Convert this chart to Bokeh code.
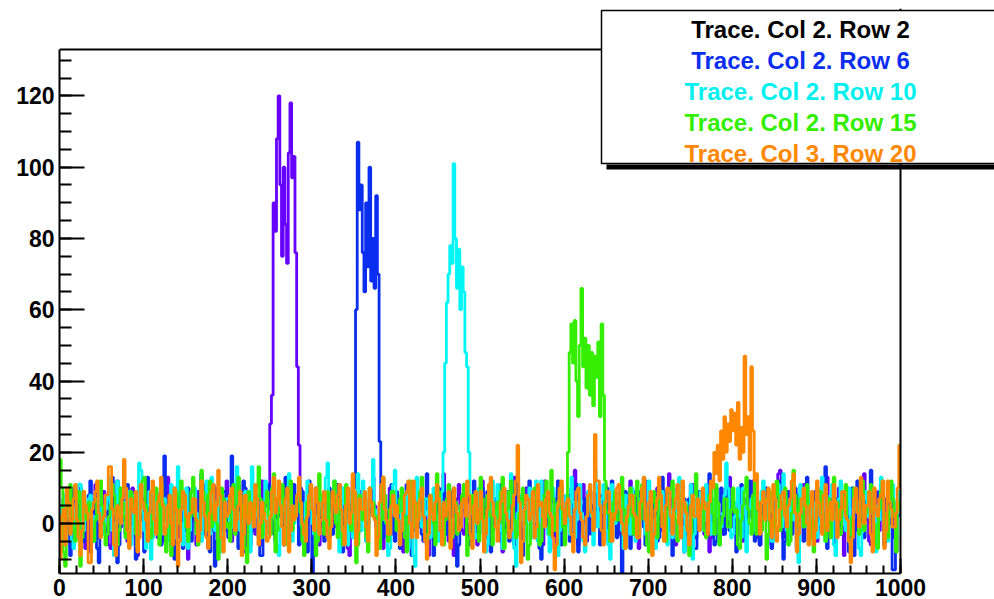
import numpy as np
from bokeh.plotting import figure
from bokeh.models import Range1d, SingleIntervalTicker, BoxAnnotation, Label, Span
from bokeh.embed import file_html
from bokeh.resources import INLINE

# ---- data: bin contents, 500 bins of width 2 over 0..1000 ----
x_min, x_max = 0, 1000
y_min, y_max = -14, 133

row2 = [3, -2, -6, 4, 8, 0, 1, 6, -4, -1, 5, 9, 10, 2, -2, -7, 4, 1, -8, 3,
        6, 11, 0, -4, -3, 2, 9, 5, 2, -6, -7, 3, 4, 8, 12, -1, -1, 6, 5, -3,
        -5, 1, 7, 10, 2, -6, -9, 3, 11, 7, 3, -3, -2, 5, 6, 0, 0, 9, -4, 2,
        8, -5, 1, 4, 13, 7, -6, 0, 4, 10, -1, -4, 7, 3, 2, 8, -10, -3, 5, 1,
        3, -6, 9, 4, -3, 11, 6, 0, -7, 5, 1, -2, 10, 7, 4, -5, -2, 3, 7, 12,
        0, -4, -5, 6, 5, 1, 11, -3, 2, 8, -8, 4, 6, -1, 3, 9, -3, 2, 8, -6,
        12, 4, 9, 5, 8, 28, 36, 90, 82, 108, 120, 95, 75, 100, 84, 73, 104, 118, 97, 103,
        76, 44, 22, 10, 4, -3, -3, 6, 7, 2, 1, -5, 10, 4, -6, 2, 5, 9, 2, -4,
        -4, 3, 8, -1, 3, 6, 11, 2, -2, 5, 6, -7, -9, 1, 4, 8, 0, -3, 9, 4,
        2, 7, -5, 0, 7, 3, 13, 5, -1, -6, 5, 9, -7, 1, 3, -2, 10, 6, -3, 4,
        6, 0, 1, 8, -8, -2, 9, 3, 4, 11, -2, 5, 12, -1, 0, 7, 5, 2, -6, -9,
        3, 6, 8, 1, -4, 5, 6, 9, 14, 2, -1, -5, 2, 7, -9, 0, 7, 11, 4, -2,
        -3, 4, 10, 6, 1, -2, 5, 8, -6, 3, 8, 12, 3, -4, -2, 1, 11, 7, 0, 5,
        6, 2, -5, -8, 4, 9, 9, 3, -1, 6, 13, -2, 2, 5, -8, -3, 5, 10, 7, 1,
        1, 6, -4, 0, 8, 4, 3, -6, 12, 7, -2, 3, 6, 9, -7, -1, 4, 2, 10, 5,
        -1, 3, 5, 8, 2, -4, 15, 6, -6, 1, 7, 11, 0, -5, 9, 4, -3, 2, 4, 7,
        8, 0, -2, 5, 11, 7, 3, -1, -5, 6, 6, 2, 1, -3, 10, 8, -4, 0, 7, 12,
        2, -3, 9, 5, -7, 1, 5, 8, 12, 3, 0, -6, -3, 4, 8, 10, 4, -2, -1, 6,
        6, 2, 14, 7, 3, -5, -6, 1, 9, 4, 1, -8, -2, 6, 7, 11, 11, 3, -4, 0,
        5, 9, 0, -3, 8, 2, -8, -4, 3, 7, 10, 5, 2, -1, -3, 6, 6, 1, 13, 8,
        -1, 4, 4, -3, 9, 6, -5, 0, 7, 3, 2, 8, 12, 5, 0, -4, -6, 2, 5, 10,
        8, 1, 3, -6, -2, 7, 10, 14, 15, 2, -4, 0, 6, 9, 1, -3, 9, 5, -7, 3,
        4, 7, 11, 2, -1, -5, 6, 3, 2, 9, -5, 1, 8, 4, 3, -2, 13, 6, 0, 7,
        -3, 2, 7, 10, 5, -1, -9, 4, 10, 6, 2, -4, 4, 8, -2, 1, 8, 12, 14, 3,
        1, -5, -6, 3, 6, 9, 3, -2, 11, 4, -1, 7, 5, 0, 9, 2, -4, -8, 2, 6]

row6 = [-2, 5, 7, -3, 4, 9, -9, -2, 10, 6, 1, -4, 6, 3, -5, 0, 3, 8, 12, -1,
        0, 7, -7, -11, 8, 4, 2, -1, -3, 6, 9, 13, 5, -2, -11, -6, 4, 9, 1, -3,
        11, 5, -4, 2, 6, -10, 0, 7, 3, 1, -8, 4, 13, 9, 2, -3, -1, 5, 7, 0,
        -6, 3, 19, 8, 1, -4, 5, 10, -10, -2, 8, 4, 3, -7, -2, 6, 10, 1, -5, 3,
        4, -1, 0, 8, 14, 5, -3, 2, 7, -8, 2, 11, -12, -5, 6, 1, 1, 9, 9, -2,
        -4, 3, 19, 6, 3, -2, -7, 4, 5, 12, 10, 2, 0, -6, -2, 8, 8, 3, 4, -9,
        -9, 1, 6, 10, 11, 4, 1, -3, -5, 7, 7, 2, 3, -6, 13, 9, -3, 0, 5, 11,
        2, 6, -6, -1, 9, 4, 0, -8, 12, 5, -14, -4, 4, 10, 8, 1, -1, -5, 6, 3,
        10, 2, -3, 7, 5, 11, 2, -6, -8, 4, 7, 0, 1, 9, 12, 10, 60, 107, 88, 95,
        76, 65, 90, 72, 100, 68, 80, 66, 92, 70, 23, 6, -4, 8, 2, -3, 6, 11, 1, -5,
        9, 3, -7, -2, 3, 8, 11, 5, -2, -9, 5, 1, 0, 6, 8, -3, -5, 4, 14, 7,
        2, -4, -9, 1, 6, 10, 1, 4, 10, -1, -3, 6, 4, 9, 7, 2, -12, -6, 3, 8,
        8, 3, 0, -6, -5, 2, 12, 7, 2, -3, 6, 10, -1, 4, 9, 1, -8, -2, 4, 7,
        5, 0, 11, 6, -3, 2, 1, -5, 7, 10, -6, 3, 13, 4, 2, -9, 0, 5, 6, 12,
        -4, 1, 9, 6, 3, -7, -10, 2, 5, 9, 8, 4, 1, -3, -2, 7, 12, 3, -6, 0,
        4, 8, 0, -5, 10, 3, 6, 11, -8, -2, 2, 5, 7, 0, -3, 9, 5, 1, 11, 6,
        -1, -6, 8, 3, 3, 10, -5, 0, 12, 6, 0, -4, 6, 9, -14, -3, 9, 4, 2, -7,
        7, 1, -2, 5, 4, 9, 10, -1, -6, 2, 1, 8, 8, 4, 3, -5, -4, 6, 13, 9,
        0, 5, 6, -2, -9, 3, 5, 10, 2, -4, 11, 7, -3, 1, 7, 3, 1, -7, -7, 4,
        9, 6, 3, -1, -1, 8, 14, 4, 4, -6, -5, 2, 6, 10, 0, -3, 10, 5, -2, 7,
        5, 1, -8, 3, 8, 11, 2, -4, -3, 6, 12, 8, 1, -5, 6, 3, -6, 2, 4, 9,
        10, 4, 0, -7, -4, 6, 7, 12, 3, 1, -10, -5, 9, 5, 2, -3, 5, 10, -1, 8,
        8, 2, -5, 1, 13, 7, 1, -4, 6, 9, -2, 3, 4, 0, 11, 16, -7, -2, 3, 6,
        0, -6, 7, 4, -3, 2, 9, 5, 2, -8, 5, 10, -9, 1, 12, 7, 1, -3, -4, 6,
        6, 3, 15, 8, -2, -5, 4, 9, 10, 2, -6, 0, 3, 7, 8, -13, -13, 4, 5, 9]

row10 = [5, 1, -3, 8, 9, 2, 1, -5, -7, 4, 6, 11, 11, -2, -2, 3, 3, 7, 8, 0,
         -5, 2, 2, 6, 10, -3, -1, 4, 7, 13, 4, -2, -9, 0, 12, 6, 0, 5, 6, -4,
         3, 9, -6, -1, 8, 4, 1, 17, 15, 3, -2, -7, 5, 9, -10, -4, 9, 2, 2, 6,
         -3, 4, 7, 1, 4, -5, 11, 6, -4, 2, 16, 8, 0, -6, 6, 10, -7, -2, 3, 5,
         10, 3, 1, -4, -5, 6, 8, 12, 2, -3, 13, 5, -2, 0, 5, 9, -8, -3, 4, 7,
         7, 0, -1, 5, 11, 16, 3, -2, -6, 4, 9, 2, 0, -8, 16, 6, 2, 8, -4, 1,
         6, -3, 12, 7, -3, 2, 4, 10, 1, -6, -9, -1, 8, 5, 3, -4, 14, 9, -5, 0,
         2, 7, 9, 3, -1, -5, 6, 12, 11, 4, 0, -3, -6, 2, 5, 8, 3, -2, 13, 17,
         -2, 3, 7, 12, 4, -1, -8, 2, 10, 6, 1, -6, 6, 9, -4, 0, 9, 14, 3, -2,
         12, 6, -5, -1, 5, 10, 18, 4, 2, -3, -3, 7, 8, 1, 0, -9, -7, 3, 11, 15,
         4, -2, 1, 8, -2, 3, 9, -7, 6, 11, -9, -12, 13, 5, 3, -1, 0, 7, 7, 2,
         -4, 6, 10, 3, 2, -5, 5, 9, 20, 45, 62, 70, 78, 73, 101, 80, 66, 77, 60, 72,
         65, 48, 44, 20, 8, 3, 6, -4, -3, 10, 9, 2, 1, -8, -6, 4, 8, 12, 4, -1,
         11, 3, -2, -7, 5, 9, 0, 6, 14, 2, -7, -12, 3, 7, 8, 1, -1, -5, 6, 10,
         2, -4, 9, 12, -5, 3, 12, 7, 4, -1, -3, -8, 7, 10, 1, 5, -9, -2, 10, 4,
         5, 8, 0, -3, 13, 6, -4, 1, 6, 11, 3, -5, -8, 2, 9, 4, 2, -6, 15, 9,
         -1, 3, 7, 11, 4, -2, -6, -10, 11, 5, 0, 4, 5, 8, -2, -7, 8, 2, 3, -3,
         10, 5, -5, -1, 2, 7, 6, 13, -3, 0, 12, 6, 1, -4, -7, 2, 4, 9, 9, 1,
         0, -6, 8, 4, -4, 2, 3, 9, 13, 6, -1, -8, 6, 1, 2, 11, -10, -3, 7, 4,
         4, 9, -2, 1, 11, 6, 5, -3, 0, 7, 9, 2, -6, -1, 3, 8, 17, 10, 1, -4,
         -3, 2, 6, 10, 2, -4, 10, 5, -8, 1, 4, 7, 8, -2, -1, 3, 5, 9, 12, 6,
         7, 1, 0, -5, -5, 3, 9, 11, 3, -1, 14, 8, -2, -6, 6, 2, 1, 5, -7, -11,
         11, 5, 4, 8, -1, 2, 7, -3, 2, 6, -4, 0, 10, 13, 0, -5, 5, 3, 8, 11,
         -6, -9, 3, 7, 12, 5, 1, -2, 6, 10, -3, 1, 9, 4, 4, -7, -9, 0, 7, 9,
         2, 6, 10, 3, -2, -8, 5, 1, 13, 8, 0, -3, -5, 2, 8, 11, 6, -4, 3, 9]

row15 = [18, 10, -8, -12, 4, 7, 11, 2, -2, -5, 6, 9, -12, -4, 9, 3, 1, 6, 3, -2,
         -5, 1, 7, 10, 12, 5, 0, -6, -3, 2, 5, 11, 8, 3, -6, -2, 10, 6, 2, -4,
         -1, 4, 9, 7, 4, -3, -7, 1, 6, 12, 13, 5, 1, -2, -4, 3, 8, 10, 3, -6,
         11, 6, -2, -8, 5, 2, -9, -3, 7, 9, 0, 4, 12, 7, 4, -1, -5, 2, 9, 13,
         2, -3, -6, 1, 15, 9, 3, -2, 8, 12, -1, 5, 6, 0, -10, -4, 10, 7, 4, -1,
         0, -5, 7, 11, -3, 2, 13, 8, 5, -2, -7, -11, 9, 4, 1, 6, 4, 10, 16, 7,
         -4, 2, 6, 9, 2, -3, 10, 14, -8, -2, 3, 7, 11, 5, 0, -6, 7, 12, -2, 1,
         5, 8, 12, 3, -5, -9, 1, 6, 8, 11, 4, 0, -9, -5, 14, 8, 2, -3, 6, 9,
         -3, 1, 9, 12, 0, -4, 7, 3, -6, -1, 11, 6, 3, -2, 5, 9, -11, -6, 8, 4,
         1, 5, -4, -8, 10, 6, 6, 2, 2, -3, -7, 1, 13, 8, 0, -5, 4, 9, 9, 3,
         -2, 3, 7, 10, 3, -4, -8, 2, 12, 7, 5, -1, -1, 6, 9, 13, 2, -3, -5, 1,
         8, 4, 0, -6, 14, 9, 4, -2, -6, 1, 7, 11, 1, -4, 10, 6, -3, 2, 5, 8,
         11, 6, -9, -4, 3, 8, 6, 1, 0, -5, 13, 7, -4, 2, 8, 11, 2, -6, -1, 4,
         6, 0, 9, 13, -7, -2, 4, 9, 12, 5, 1, -4, -3, 3, 7, 10, 5, 0, -10, -6,
         3, 8, 10, 4, 0, -6, -5, 2, 8, 12, 2, -3, 15, 7, -2, 3, 6, 9, 4, -1,
         -6, 2, 20, 48, 56, 45, 57, 40, 30, 50, 66, 44, 52, 38, 50, 36, 48, 33, 47, 41,
         51, 30, 56, 36, 12, 3, 3, -5, -4, 6, 9, 1, 1, 8, 13, 4, -7, 0, 5, 10,
         2, -3, 8, 12, -3, 1, 11, 5, 4, -6, -8, 2, 6, 9, 0, -4, 10, 7, 3, -2,
         -5, 4, 7, 10, 12, 3, 1, -5, -2, 6, 9, 4, 5, -1, -9, -3, 4, 8, 14, 6,
         0, 5, 6, -2, -4, 2, 8, 11, 3, -3, 11, 6, -6, 0, 2, 7, 7, -1, -1, 4,
         10, 3, 4, -6, -7, 1, 5, 9, 13, 4, 0, -3, 8, 12, -3, 2, 6, -2, 2, 7,
         -10, -3, 9, 5, 3, -2, 12, 8, -2, 4, 6, 10, 1, -6, -5, 3, 15, 8, 4, -1,
         7, 2, -1, 6, 11, 5, 2, -4, -8, 1, 5, 9, 9, 3, 0, -5, 3, 7, -4, 1,
         13, 6, 6, -2, -3, 4, 8, 11, 1, -5, -6, 2, 10, 7, 4, -3, 7, 12, -2, 3,
         5, 9, 11, 3, 0, -6, -7, 4, 9, 12, 3, -2, -4, 5, 12, 7, 2, -8, 6, 4]

row20 = [-10, 2, 4, -6, 10, 6, -3, 1, 7, 11, 1, -4, -9, -2, 9, 5, 3, -11, -11, 4,
         6, 9, 12, 3, -4, 1, 2, 8, 8, 16, 16, 4, -6, -9, 5, 2, 0, 7, 18, 10,
         -2, -7, 7, 4, 3, 9, -8, -4, 11, 6, 4, 1, -5, 3, 9, 12, 1, -3, 6, 8,
         13, 5, -3, -1, 5, 8, 0, -6, 10, 4, -12, -5, 4, 9, 8, 2, -1, 3, 3, 7,
         7, 1, -5, -2, 12, 6, 2, -4, -7, 3, 9, 11, 1, 5, 15, 8, -4, -8, 6, 2,
         3, 8, 10, 4, -2, 1, 5, 9, -9, -3, 8, 2, 0, 6, 4, -1, 11, 7, -6, 0,
         6, 3, 1, -5, -4, 2, 9, 13, 3, 7, 12, 5, -1, -6, 7, 10, -8, -2, 5, 1,
         2, 8, 13, 6, 0, -3, -5, 2, 8, 11, 4, -2, 10, 6, -3, 1, 6, 9, 1, -4,
         -7, -1, 9, 5, 3, 8, 11, 4, -2, -6, 5, 10, 0, 3, 14, 9, -6, -2, 7, 4,
         4, 9, -1, -5, 10, 6, 2, 1, -9, -4, 6, 11, 13, 4, 1, -3, -3, 5, 8, 2,
         5, 1, -6, -2, 3, 8, 9, 12, 0, -4, 12, 6, -4, 1, 7, 10, 2, -5, -10, -3,
         8, 3, 1, 6, 11, 7, -2, -6, 6, 2, 4, 9, -7, -3, 10, 5, 3, -2, -1, 6,
         7, 2, 12, 8, -3, -7, 5, 9, 0, 4, 9, 1, -8, -3, 4, 11, 13, 6, 2, -1,
         -5, 1, 6, 9, 10, 3, 1, -4, -2, 5, 8, 12, 22, 6, -11, -5, 4, 8, 7, 1,
         3, 9, -4, -1, 11, 5, 6, 2, -1, 7, 9, 3, 2, -4, -13, -6, 5, 10, 12, 4,
         0, 6, 7, 2, -3, -8, 4, 9, 10, 3, 1, -4, -6, 2, 8, 11, 3, -2, 25, 12,
         12, 5, -2, -6, 6, 9, 9, 3, -5, 1, 3, 10, 11, 4, 0, -3, -7, 2, 5, 8,
         8, 3, 2, -4, -4, 6, 10, 13, 1, -2, 6, 9, -9, -3, 4, 7, 13, 8, -1, -5,
         5, 10, 9, 2, -3, 4, 7, 11, 0, -4, 12, 6, 3, -2, -6, 5, 8, 2, 2, 7,
         -2, 4, 10, 6, 4, -3, 6, 12, 10, 20, 14, 22, 12, 26, 18, 30, 20, 28, 23, 32,
         26, 31, 22, 34, 18, 27, 20, 47, 25, 30, 15, 44, 26, 12, 14, 4, -3, 6, 9, 1,
         6, 10, 1, -4, 11, 7, -5, -1, 4, 8, 9, 2, -1, 5, 7, 12, 14, 3, -8, -3,
         3, 7, 10, 5, 0, -6, 5, 9, -6, -2, 12, 6, 2, -3, 8, 11, -2, 4, 6, 1,
         11, 6, -4, 1, 4, 9, 9, 2, 1, -5, -11, -4, 7, 10, 3, -1, 13, 8, 0, 5,
         5, 9, -3, -8, 10, 4, 2, 7, 8, 12, -7, -2, 12, 6, 4, -1, -1, 3, 10, 22]

series_labels = ["Trace. Col 2. Row 2", "Trace. Col 2. Row 6", "Trace. Col 2. Row 10",
                 "Trace. Col 2. Row 15", "Trace. Col 3. Row 20"]
series_values = [row2, row6, row10, row15, row20]
trace_colors = ["#6600FF", "#0A2EF0", "#00F5F5", "#33EE00", "#FF8800"]
legend_colors = ["#000000", "#0A2EF0", "#00F0F0", "#33EE00", "#FF8800"]

FONT = "Liberation Sans"
W, H = 994, 599

# frame: left 59 .. right 994, top 8 .. bottom 573 ; data box 0..1000 x -14..133
# maps to pixels 59..900 x 49..573
px_per_x = 841.0 / (x_max - x_min)
px_per_y = 524.0 / (y_max - y_min)
x_end = x_min + (W - 59) / px_per_x
y_top = y_min + (573 - 8) / px_per_y

p = figure(width=W, height=H, output_backend="svg", toolbar_location=None,
           x_range=Range1d(x_min, x_end), y_range=Range1d(y_min, y_top),
           min_border_left=59, min_border_right=0, min_border_top=8, min_border_bottom=26)
p.background_fill_color = "white"
p.border_fill_color = "white"
p.outline_line_color = None
p.xgrid.visible = False
p.ygrid.visible = False

for vals, col in zip(series_values, trace_colors):
    n = len(vals)
    edges = np.linspace(x_min, x_max, n + 1)
    ys = list(vals) + [vals[-1]]
    p.step(x=edges, y=ys, mode="after", line_color=col, line_width=2.8)

p.xaxis.ticker = SingleIntervalTicker(interval=100, num_minor_ticks=5)
p.yaxis.ticker = SingleIntervalTicker(interval=20, num_minor_ticks=4)
p.xaxis.bounds = (x_min, x_max)
p.yaxis.bounds = (y_min, y_max)
for ax in (p.xaxis[0], p.yaxis[0]):
    ax.axis_line_color = "black"
    ax.axis_line_width = 2
    ax.major_tick_line_color = "black"
    ax.minor_tick_line_color = "black"
    ax.major_tick_line_width = 2
    ax.minor_tick_line_width = 2
    ax.major_tick_out = 0
    ax.minor_tick_out = 0
    ax.major_label_text_font = FONT
    ax.major_label_text_font_style = "bold"
    ax.major_label_text_font_size = "23px"
    ax.major_label_text_color = "black"
p.yaxis.major_tick_in = 25
p.yaxis.minor_tick_in = 12
p.xaxis.major_tick_in = 15
p.xaxis.minor_tick_in = 8
p.yaxis.major_label_standoff = 5
p.xaxis.major_label_standoff = 5

# frame top and right edges of the data box
p.add_layout(Span(location=y_max, dimension="width", line_color="black", line_width=2))
p.add_layout(Span(location=x_max, dimension="height", line_color="black", line_width=2))

# legend (canvas units, y measured from top)
def canvas_box(**kw):
    return BoxAnnotation(left_units="canvas", right_units="canvas",
                         top_units="canvas", bottom_units="canvas", **kw)

p.add_layout(canvas_box(left=601, right=1005, top=10, bottom=163,
                        fill_color="white", fill_alpha=1, line_alpha=0))
for i, (lab, col) in enumerate(zip(series_labels, legend_colors)):
    p.add_layout(Label(x=800, y=29 + 31 * i, x_units="canvas", y_units="canvas",
                       text=lab, text_color=col, text_font=FONT, text_font_style="bold",
                       text_font_size="24px", text_align="center", text_baseline="alphabetic"))
p.add_layout(canvas_box(left=606, right=1010, top=164, bottom=169,
                        fill_color="black", fill_alpha=1, line_alpha=0))
p.add_layout(canvas_box(left=601, right=1005, top=10, bottom=163,
                        fill_alpha=0, line_color="black", line_width=1.5, line_alpha=1))

open("out.html", "w").write(file_html(p, INLINE))
